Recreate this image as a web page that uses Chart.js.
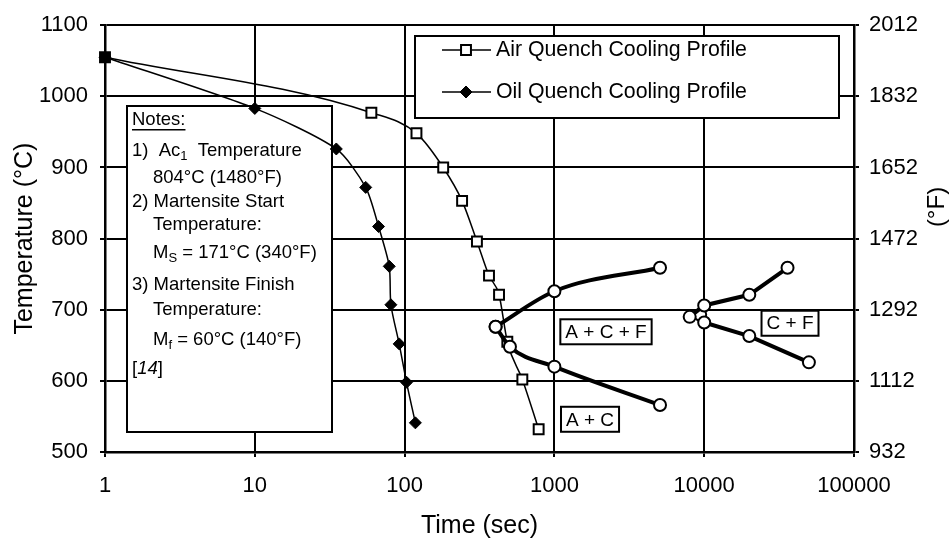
<!DOCTYPE html>
<html>
<head>
<meta charset="utf-8">
<script src="https://cdn.jsdelivr.net/npm/chart.js@4.4.1/dist/chart.umd.min.js"></script>
<style>
  html, body { margin: 0; padding: 0; background: #fff; }
  #wrap { width: 950px; height: 541px; }
</style>
</head>
<body>
<div id="wrap"><canvas id="grafico" width="950" height="541"></canvas></div>
<script>
// dados (tempo em s, temperatura em °C)
const airTime = [1, 60, 120, 181, 242, 304, 366, 427, 485, 611, 785];
const airTemp = [1055, 977, 948, 900, 853, 796, 748, 721, 655, 602, 532];

const oilTime = [1, 10, 35, 55, 67, 79, 81, 92, 103, 118];
const oilTemp = [1055, 983, 926, 872, 817, 761, 707, 652, 598, 541];

// linhas de transformação (A + C + F)
const acfUpperTime = [405, 1000, 5070];
const acfUpperTemp = [676, 726, 759];
const acfLowerTime = [405, 505, 1000, 5070];
const acfLowerTemp = [676, 648, 620, 566];

// linhas C + F
const cfUpperTime = [8000, 10000, 20000, 36000];
const cfUpperTemp = [690, 706, 721, 759];
const cfLowerTime = [9400, 10000, 20000, 50000];
const cfLowerTemp = [693, 682, 663, 626];

const xTicks = [1, 10, 100, 1000, 10000, 100000];
const yTicks = [500, 600, 700, 800, 900, 1000, 1100];
const fTicks = [932, 1112, 1292, 1472, 1652, 1832, 2012];

const FONT = "'Liberation Sans', Arial, Helvetica, sans-serif";
Chart.defaults.font.family = FONT;
Chart.defaults.color = '#000';

function pts(xs, ys) {
  return xs.map((x, i) => ({ x: x, y: ys[i] }));
}

const boundary = {
  borderColor: '#000',
  borderWidth: 4,
  pointRadius: 6,
  pointHoverRadius: 6,
  pointBorderWidth: 2,
  pointBorderColor: '#000',
  pointBackgroundColor: '#fff',
  showLine: true,
  clip: false
};

const dados = {
  datasets: [
    Object.assign({ data: pts(acfUpperTime, acfUpperTemp), cubicInterpolationMode: 'monotone' }, boundary),
    Object.assign({ data: pts(acfLowerTime, acfLowerTemp), cubicInterpolationMode: 'monotone' }, boundary),
    Object.assign({ data: pts(cfUpperTime, cfUpperTemp), tension: 0 }, boundary),
    Object.assign({ data: pts(cfLowerTime, cfLowerTemp), tension: 0 }, boundary),
    {
      label: 'Air Quench Cooling Profile',
      data: pts(airTime, airTemp),
      showLine: true,
      clip: false,
      cubicInterpolationMode: 'monotone',
      borderColor: '#000',
      borderWidth: 1.5,
      pointStyle: 'rect',
      pointRadius: 7,
      pointHoverRadius: 7,
      pointBorderWidth: 2,
      pointBorderColor: '#000',
      pointBackgroundColor: airTime.map((t, i) => i === 0 ? '#000' : '#fff')
    },
    {
      label: 'Oil Quench Cooling Profile',
      data: pts(oilTime, oilTemp),
      showLine: true,
      clip: false,
      tension: 0.25,
      borderColor: '#000',
      borderWidth: 1.5,
      pointStyle: 'rectRot',
      pointRadius: 6,
      pointHoverRadius: 6,
      pointBorderWidth: 1,
      pointBorderColor: '#000',
      pointBackgroundColor: '#000'
    }
  ]
};

// caixas de texto: notas, legenda e regiões de fases
function boxAt(ctx, x, y, w, h, lw) {
  ctx.save();
  ctx.fillStyle = '#fff';
  ctx.fillRect(x, y, w, h);
  ctx.lineWidth = lw;
  ctx.strokeStyle = '#000';
  ctx.strokeRect(x, y, w, h);
  ctx.restore();
}

function drawRuns(ctx, x, y, runs) {
  // runs: [texto, tipo]  tipo: '', 'sub', 'i', 'u'
  ctx.textBaseline = 'middle';
  ctx.textAlign = 'left';
  runs.forEach(r => {
    const txt = r[0], kind = r[1] || '';
    let yy = y;
    if (kind === 'sub') { ctx.font = '13px ' + FONT; yy = y + 5; }
    else if (kind === 'i') { ctx.font = 'italic 18.5px ' + FONT; }
    else { ctx.font = '18.5px ' + FONT; }
    ctx.fillText(txt, x, yy);
    const w = ctx.measureText(txt).width;
    if (kind === 'u') {
      ctx.fillRect(x, y + 9, w, 1.5);
    }
    x += w;
  });
}

const notasPlugin = {
  id: 'notas',
  beforeDatasetsDraw(chart) {
    const ctx = chart.ctx;
    ctx.save();
    // caixa de notas
    boxAt(ctx, 127, 106, 205, 326, 2);
    ctx.fillStyle = '#000';
    const c1 = 132, c2 = 153, t = 106;
    drawRuns(ctx, c1, t + 14, [['Notes:', 'u']]);
    drawRuns(ctx, c1, t + 45, [['1)  Ac'], ['1', 'sub'], ['  Temperature']]);
    drawRuns(ctx, c2, t + 72, [['804°C (1480°F)']]);
    drawRuns(ctx, c1, t + 96, [['2) Martensite Start']]);
    drawRuns(ctx, c2, t + 119, [['Temperature:']]);
    drawRuns(ctx, c2, t + 147, [['M'], ['S', 'sub'], [' = 171°C (340°F)']]);
    drawRuns(ctx, c1, t + 179, [['3) Martensite Finish']]);
    drawRuns(ctx, c2, t + 204, [['Temperature:']]);
    drawRuns(ctx, c2, t + 234, [['M'], ['f', 'sub'], [' = 60°C (140°F)']]);
    drawRuns(ctx, c1, t + 263, [['['], ['14', 'i'], [']']]);

    // legenda
    boxAt(ctx, 415, 36, 424, 82, 2);
    const itens = [chart.data.datasets[4], chart.data.datasets[5]];
    const linhasY = [50, 92];
    itens.forEach((ds, i) => {
      const y = linhasY[i];
      ctx.strokeStyle = '#000';
      ctx.lineWidth = 1.5;
      ctx.beginPath();
      ctx.moveTo(442, y);
      ctx.lineTo(491, y);
      ctx.stroke();
      ctx.lineWidth = ds.pointBorderWidth;
      ctx.fillStyle = i === 0 ? '#fff' : '#000';
      Chart.helpers.drawPoint(ctx, { pointStyle: ds.pointStyle, radius: ds.pointRadius, borderWidth: ds.pointBorderWidth }, 466, y);
      ctx.fillStyle = '#000';
      ctx.font = '21.3px ' + FONT;
      ctx.textBaseline = 'middle';
      ctx.textAlign = 'left';
      ctx.fillText(ds.label, 496, y);
    });
    ctx.restore();
  },
  afterDatasetsDraw(chart) {
    const ctx = chart.ctx;
    const xs = chart.scales.x, ys = chart.scales.y;
    const rotulos = [
      ['A + C + F', 2210, 669],
      ['A + C', 1729, 546],
      ['C + F', 37400, 681]
    ];
    ctx.save();
    ctx.font = '19px ' + FONT;
    rotulos.forEach(r => {
      const cx = xs.getPixelForValue(r[1]);
      const cy = ys.getPixelForValue(r[2]);
      const w = ctx.measureText(r[0]).width + 10;
      boxAt(ctx, cx - w / 2, cy - 12.5, w, 25, 2);
      ctx.fillStyle = '#000';
      ctx.textAlign = 'center';
      ctx.textBaseline = 'middle';
      ctx.fillText(r[0], cx, cy + 1);
    });
    // título do eixo direito
    ctx.translate(944, 207);
    ctx.rotate(-Math.PI / 2);
    ctx.font = '24px ' + FONT;
    ctx.textAlign = 'center';
    ctx.textBaseline = 'alphabetic';
    ctx.fillText('(°F)', 0, 0);
    ctx.restore();
  }
};

const config = {
  type: 'scatter',
  data: dados,
  options: {
    responsive: false,
    animation: false,
    events: [],
    layout: { padding: { top: 20, left: 0, right: 0, bottom: 0 } },
    plugins: {
      legend: { display: false },
      tooltip: { enabled: false }
    },
    scales: {
      x: {
        type: 'logarithmic',
        min: 1,
        max: 100000,
        afterBuildTicks: (axis) => { axis.ticks = xTicks.map(v => ({ value: v })); },
        afterFit: (axis) => { axis.height = 89; },
        ticks: {
          font: { size: 22 },
          color: '#000',
          padding: 16,
          maxRotation: 0,
          autoSkip: false,
          callback: (v) => String(v)
        },
        grid: { color: '#000', lineWidth: 2, tickLength: 5 },
        border: { color: '#000', width: 2.5 },
        title: {
          display: true,
          text: 'Time (sec)',
          font: { size: 25 },
          color: '#000',
          padding: { top: 0, bottom: 0 }
        }
      },
      y: {
        min: 500,
        max: 1100,
        afterBuildTicks: (axis) => { axis.ticks = yTicks.map(v => ({ value: v })); },
        afterFit: (axis) => { axis.width = 105; },
        ticks: { font: { size: 22 }, color: '#000', padding: 12, callback: (v) => String(v) },
        grid: { color: '#000', lineWidth: 2, tickLength: 5 },
        border: { color: '#000', width: 2.5 },
        title: {
          display: true,
          text: 'Temperature (°C)',
          font: { size: 25 },
          color: '#000',
          padding: { top: 10, bottom: 0 }
        }
      },
      y2: {
        position: 'right',
        min: 932,
        max: 2012,
        afterBuildTicks: (axis) => { axis.ticks = fTicks.map(v => ({ value: v })); },
        afterFit: (axis) => { axis.width = 96; },
        ticks: { font: { size: 22 }, color: '#000', padding: 10, callback: (v) => String(v) },
        grid: { drawOnChartArea: false, color: '#000', lineWidth: 2, tickLength: 5 },
        border: { color: '#000', width: 2.5 }
      }
    }
  },
  plugins: [notasPlugin]
};

// criação do gráfico
const ctx = document.getElementById('grafico').getContext('2d');
const grafico = new Chart(ctx, config);
</script>
</body>
</html>
